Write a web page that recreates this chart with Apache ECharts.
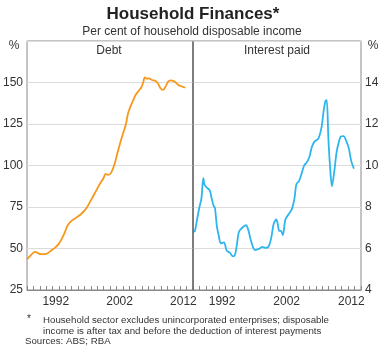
<!DOCTYPE html>
<html>
<head>
<meta charset="utf-8">
<script src="https://cdn.jsdelivr.net/npm/echarts@6/dist/echarts.min.js"></script>
<style>
  html, body { margin: 0; padding: 0; background: #fff; }
  #chart { width: 387px; height: 354px; }
</style>
</head>
<body>
<div id="chart"></div>
<script>
// categories for the year ticks (one per year, labels only on a few)
var years = [];
for (var y = 1988; y <= 2013; y++) years.push(String(y));
var labelYears = ['1992', '2002', '2012'];

// Debt, per cent of household disposable income
var debtX = [1988.0, 1988.5, 1989.0, 1989.3, 1989.7, 1990.2, 1990.8, 1991.3, 1991.8, 1992.4,
  1992.9, 1993.4, 1993.9, 1994.3, 1994.8, 1995.2, 1995.8, 1996.4, 1997.0, 1997.5,
  1998.0, 1998.5, 1999.0, 1999.5, 2000.0, 2000.3, 2000.7, 2001.1, 2001.4, 2001.8,
  2002.2, 2002.7, 2003.1, 2003.5, 2003.8, 2004.1, 2004.6, 2005.0, 2005.5, 2005.9,
  2006.2, 2006.45, 2006.8, 2007.1, 2007.6, 2008.1, 2008.5, 2008.9, 2009.3, 2009.7,
  2010.1, 2010.5, 2010.9, 2011.3, 2011.7, 2012.1, 2012.5, 2012.8];
var debtY = [43.5, 45.5, 47.5, 48, 47.2, 46.6, 46.6, 47.3, 48.8, 50.5,
  52.5, 55.5, 59.5, 63.5, 66, 67.3, 68.8, 70.5, 72.8, 75.5,
  79, 82.5, 86, 89.5, 92.5, 95, 94.3, 95.2, 97.5, 102,
  108, 115, 120, 125, 131, 134.5, 139, 142.5, 145, 147,
  150, 153, 152.3, 152.5, 151.5, 151, 149.5, 146.5, 145.5, 147.5,
  150.5, 151.3, 151, 150, 148.5, 147.8, 147.2, 147];

// Interest paid, per cent of household disposable income
var intX = [1988.0, 1988.3, 1988.6, 1989.0, 1989.3, 1989.6, 1989.75, 1990.1, 1990.6, 1990.9,
  1991.2, 1991.4, 1991.7, 1992.0, 1992.3, 1992.8, 1993.2, 1993.7, 1994.2, 1994.5,
  1994.8, 1995.1, 1995.6, 1996.2, 1996.6, 1996.9, 1997.3, 1997.6, 1998.1, 1998.4,
  1998.7, 1999.2, 1999.7, 2000.1, 2000.5, 2000.9, 2001.1, 2001.35, 2001.6, 2001.9,
  2002.3, 2002.8, 2003.3, 2003.7, 2004.0, 2004.4, 2004.8, 2005.2, 2005.6, 2006.0,
  2006.4, 2006.8, 2007.4, 2007.9, 2008.2, 2008.5, 2008.7, 2008.95, 2009.2, 2009.5,
  2009.9, 2010.2, 2010.5, 2010.9, 2011.3, 2011.7, 2012.1, 2012.5, 2012.9];
var intY = [6.8, 6.85, 7.35, 8.0, 8.4, 9.4, 9.1, 8.95, 8.8, 8.4,
  8.05, 7.95, 7.05, 6.6, 6.25, 6.3, 5.9, 5.8, 5.62, 5.7,
  6.2, 6.8, 7.0, 7.12, 6.85, 6.45, 6.05, 5.92, 5.97, 6.02,
  6.08, 6.03, 6.1, 6.5, 7.2, 7.4, 7.2, 6.85, 6.85, 6.65,
  7.4, 7.65, 7.9, 8.4, 9.1, 9.25, 9.6, 10.0, 10.15, 10.4,
  10.9, 11.15, 11.3, 11.85, 12.6, 13.1, 13.15, 11.3, 10.0, 9.0,
  9.8, 10.6, 11.05, 11.4, 11.42, 11.2, 10.85, 10.2, 9.85];

function pairs(xs, ys) {
  return xs.map(function (x, i) { return [x, ys[i]]; });
}

var font = 'Liberation Sans, Arial, sans-serif';
var textColor = '#333';
var gridLine = '#dcdcdc';
var frame = '#8a8a8a';

var chart = echarts.init(document.getElementById('chart'));

function catAxis(gridIndex) {
  return {
    type: 'category', gridIndex: gridIndex, data: years, boundaryGap: true,
    axisLine: { show: true, lineStyle: { color: frame, width: 1 } },
    axisTick: { show: true, inside: true, length: 4, interval: 0, alignWithLabel: false, lineStyle: { color: '#888' } },
    axisLabel: {
      interval: 0, margin: 6, color: textColor, fontFamily: font, fontSize: 12,
      formatter: function (v) { return labelYears.indexOf(v) >= 0 ? v : ''; }
    },
    splitLine: { show: false }
  };
}
function valXAxis(gridIndex) {
  return { type: 'value', gridIndex: gridIndex, min: 1988, max: 2014, show: false, splitLine: { show: false } };
}

chart.setOption({
  animation: false,
  grid: [
    { left: 25, top: 41, width: 168, height: 249, show: true, borderColor: frame, borderWidth: 1 },
    { left: 193, top: 41, width: 168, height: 249, show: true, borderColor: frame, borderWidth: 1 }
  ],
  xAxis: [catAxis(0), valXAxis(0), catAxis(1), valXAxis(1)],
  yAxis: [
    {
      type: 'value', gridIndex: 0, min: 25, max: 175, interval: 25, position: 'left',
      axisLine: { show: false }, axisTick: { show: false },
      axisLabel: {
        margin: 4, color: textColor, fontFamily: font, fontSize: 12,
        formatter: function (v) { return v === 175 ? '' : String(v); }
      },
      splitLine: { lineStyle: { color: gridLine, width: 1 } }
    },
    {
      type: 'value', gridIndex: 1, min: 4, max: 16, interval: 2, position: 'right',
      axisLine: { show: false }, axisTick: { show: false },
      axisLabel: {
        margin: 4, color: textColor, fontFamily: font, fontSize: 12,
        formatter: function (v) { return v === 16 ? '' : String(v); }
      },
      splitLine: { lineStyle: { color: gridLine, width: 1 } }
    }
  ],
  series: [
    {
      type: 'line', xAxisIndex: 1, yAxisIndex: 0, data: pairs(debtX, debtY),
      showSymbol: false, smooth: 0.3, lineStyle: { color: '#f7981d', width: 1.8 }
    },
    {
      type: 'line', xAxisIndex: 3, yAxisIndex: 1, data: pairs(intX, intY),
      showSymbol: false, smooth: 0.3, lineStyle: { color: '#2db6ee', width: 1.8 }
    }
  ],
  graphic: [
    { type: 'line', z: 10, shape: { x1: 193, y1: 41, x2: 193, y2: 290 }, style: { stroke: '#555', lineWidth: 1 } },
    { type: 'text', x: 193, y: 14, style: { text: 'Household Finances*', font: 'bold 17px ' + font, fill: '#222', textAlign: 'center', textVerticalAlign: 'middle' } },
    { type: 'text', x: 192, y: 32, style: { text: 'Per cent of household disposable income', font: '12px ' + font, fill: textColor, textAlign: 'center', textVerticalAlign: 'middle' } },
    { type: 'text', x: 109, y: 51, style: { text: 'Debt', font: '12px ' + font, fill: textColor, textAlign: 'center', textVerticalAlign: 'middle' } },
    { type: 'text', x: 277, y: 51, style: { text: 'Interest paid', font: '12px ' + font, fill: textColor, textAlign: 'center', textVerticalAlign: 'middle' } },
    { type: 'text', x: 14, y: 46, style: { text: '%', font: '12px ' + font, fill: textColor, textAlign: 'center', textVerticalAlign: 'middle' } },
    { type: 'text', x: 373, y: 46, style: { text: '%', font: '12px ' + font, fill: textColor, textAlign: 'center', textVerticalAlign: 'middle' } },
    { type: 'text', x: 27, y: 319, style: { text: '*', font: '10px ' + font, fill: textColor, textAlign: 'left', textVerticalAlign: 'middle' } },
    { type: 'text', x: 43, y: 320, style: { text: 'Household sector excludes unincorporated enterprises; disposable', font: '9.7px ' + font, fill: textColor, textAlign: 'left', textVerticalAlign: 'middle' } },
    { type: 'text', x: 43, y: 331, style: { text: 'income is after tax and before the deduction of interest payments', font: '9.7px ' + font, fill: textColor, textAlign: 'left', textVerticalAlign: 'middle' } },
    { type: 'text', x: 25, y: 341, style: { text: 'Sources: ABS; RBA', font: '9.7px ' + font, fill: textColor, textAlign: 'left', textVerticalAlign: 'middle' } }
  ]
});
</script>
</body>
</html>
